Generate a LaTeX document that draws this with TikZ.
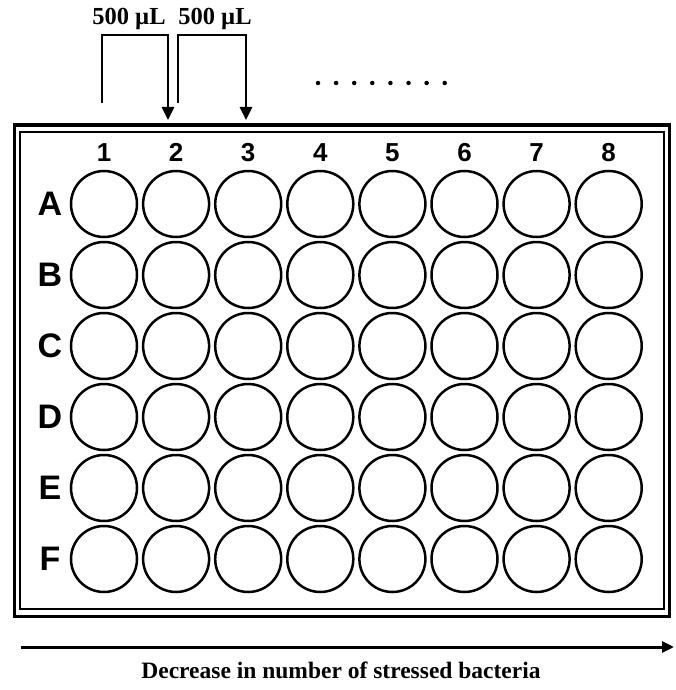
\documentclass[tikz,border=0pt]{standalone}
\usepackage{fontspec}
\setmainfont{Liberation Serif}
\newfontfamily\arialf{Liberation Sans}
\usetikzlibrary{arrows.meta}
\begin{document}
\begin{tikzpicture}[x=1pt,y=-1pt,
  well/.style={circle,draw,line width=2.5pt,minimum size=66pt,inner sep=0pt},
  rowlab/.style={font=\arialf\bfseries\fontsize{34}{34}\selectfont,inner sep=0pt},
  collab/.style={font=\arialf\bfseries\fontsize{26}{26}\selectfont,inner sep=0pt,anchor=base},
  vol/.style={font=\bfseries\fontsize{24.5}{24.5}\selectfont,inner sep=0pt,anchor=base},
  transfer/.style={line width=2.8pt,-{Triangle[length=13pt,width=12pt]}},
  dotmark/.style={circle,fill,inner sep=0pt,minimum size=4.5pt}]
\useasboundingbox (0,0) rectangle (675,690);
% plate frame
\node[draw,line width=3pt,minimum width=655pt,minimum height=491pt,inner sep=0pt] (outer) at (341.5,370.5) {};
\node[draw,line width=2pt,minimum width=644pt,minimum height=477pt,inner sep=0pt] (inner) at (342,370.5) {};
% column labels and wells
\foreach \c in {1,...,8}{
  \node[collab] (col\c) at ({104+72.1*(\c-1)},161) {\c};
}
\foreach \r [count=\i] in {A,B,C,D,E,F}{
  \node[rowlab] (row\r) at (50,{204+71*(\i-1)}) {\r};
  \foreach \c in {1,...,8}{
    \node[well] (w\r\c) at ({104+72.1*(\c-1)},{204+71*(\i-1)}) {};
  }
}
% transfer arrows
\coordinate (s1) at (102,103);
\coordinate (e1) at (168,120);
\coordinate (s2) at (178,103);
\coordinate (e2) at (246,120);
\draw[transfer] (s1) -- (102,35) -| (e1);
\draw[transfer] (s2) -- (178,35) -| (e2);
\node[vol] (v1) at (129,25) {500 µL};
\node[vol] (v2) at (215,25) {500 µL};
% dots
\foreach \k in {0,...,7}{
  \node[dotmark] (dot\k) at ({318+18.1*\k},83) {};
}
% bottom arrow
\coordinate (b1) at (21,647);
\coordinate (b2) at (674,647);
\draw[line width=3pt,-{Triangle[length=12pt,width=11pt]}] (b1) -- (b2);
\node[font=\bfseries\fontsize{23.5}{23.5}\selectfont,inner sep=0pt,anchor=base] (cap) at (341,678) {Decrease in number of stressed bacteria};
\end{tikzpicture}
\end{document}
